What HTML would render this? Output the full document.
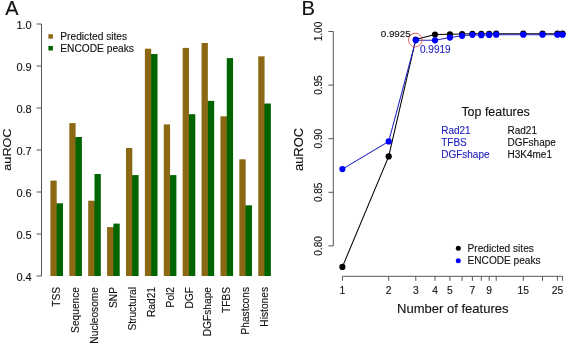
<!DOCTYPE html>
<html><head><meta charset="utf-8"><style>
html,body{margin:0;padding:0;background:#fff;}
body{width:567px;height:344px;overflow:hidden;font-family:"Liberation Sans",sans-serif;}
svg{display:block;will-change:transform;}
</style></head><body>
<svg width="567" height="344" viewBox="0 0 567 344" font-family="Liberation Sans, sans-serif" fill="#111">
<rect width="567" height="344" fill="#fff"/>
<text stroke="#111" stroke-width="0.12" x="5.3" y="14.9" font-size="19.9" font-family="Liberation Sans, sans-serif">A</text>
<line x1="41.5" y1="24.0" x2="41.5" y2="276.0" stroke="#555" stroke-width="1"/>
<line x1="36.6" y1="276.0" x2="41.5" y2="276.0" stroke="#555" stroke-width="1"/>
<text stroke="#111" stroke-width="0.12" x="31.7" y="280.8" font-size="11" text-anchor="end" font-family="Liberation Sans, sans-serif">0.4</text>
<line x1="36.6" y1="234.0" x2="41.5" y2="234.0" stroke="#555" stroke-width="1"/>
<text stroke="#111" stroke-width="0.12" x="31.7" y="238.8" font-size="11" text-anchor="end" font-family="Liberation Sans, sans-serif">0.5</text>
<line x1="36.6" y1="191.99999999999997" x2="41.5" y2="191.99999999999997" stroke="#555" stroke-width="1"/>
<text stroke="#111" stroke-width="0.12" x="31.7" y="196.79999999999998" font-size="11" text-anchor="end" font-family="Liberation Sans, sans-serif">0.6</text>
<line x1="36.6" y1="150.0" x2="41.5" y2="150.0" stroke="#555" stroke-width="1"/>
<text stroke="#111" stroke-width="0.12" x="31.7" y="154.8" font-size="11" text-anchor="end" font-family="Liberation Sans, sans-serif">0.7</text>
<line x1="36.6" y1="108.0" x2="41.5" y2="108.0" stroke="#555" stroke-width="1"/>
<text stroke="#111" stroke-width="0.12" x="31.7" y="112.8" font-size="11" text-anchor="end" font-family="Liberation Sans, sans-serif">0.8</text>
<line x1="36.6" y1="66.0" x2="41.5" y2="66.0" stroke="#555" stroke-width="1"/>
<text stroke="#111" stroke-width="0.12" x="31.7" y="70.8" font-size="11" text-anchor="end" font-family="Liberation Sans, sans-serif">0.9</text>
<line x1="36.6" y1="24.0" x2="41.5" y2="24.0" stroke="#555" stroke-width="1"/>
<text stroke="#111" stroke-width="0.12" x="31.7" y="28.8" font-size="11" text-anchor="end" font-family="Liberation Sans, sans-serif">1.0</text>
<text stroke="#111" stroke-width="0.12" transform="translate(10.9,149.6) rotate(-90)" font-size="11.2" text-anchor="middle" textLength="42.2" lengthAdjust="spacingAndGlyphs" font-family="Liberation Sans, sans-serif">auROC</text>
<rect x="56.11" y="203.80" width="1.2" height="72.20" fill="#466614"/>
<rect x="50.40" y="180.6" width="6.31" height="95.40" fill="#8B6914"/>
<rect x="56.71" y="203.3" width="6.31" height="72.70" fill="#006400"/>
<text stroke="#111" stroke-width="0.12" transform="translate(60.31,287.0) rotate(-90)" font-size="10.2" text-anchor="end" font-family="Liberation Sans, sans-serif">TSS</text>
<rect x="75.01" y="137.50" width="1.2" height="138.50" fill="#466614"/>
<rect x="69.30" y="123.1" width="6.31" height="152.90" fill="#8B6914"/>
<rect x="75.61" y="137" width="6.31" height="139.00" fill="#006400"/>
<text stroke="#111" stroke-width="0.12" transform="translate(79.20,287.0) rotate(-90)" font-size="10.2" text-anchor="end" font-family="Liberation Sans, sans-serif">Sequence</text>
<rect x="93.90" y="201.20" width="1.2" height="74.80" fill="#466614"/>
<rect x="88.19" y="200.7" width="6.31" height="75.30" fill="#8B6914"/>
<rect x="94.50" y="174" width="6.31" height="102.00" fill="#006400"/>
<text stroke="#111" stroke-width="0.12" transform="translate(98.10,287.0) rotate(-90)" font-size="10.2" text-anchor="end" font-family="Liberation Sans, sans-serif">Nucleosome</text>
<rect x="112.80" y="227.60" width="1.2" height="48.40" fill="#466614"/>
<rect x="107.09" y="227.1" width="6.31" height="48.90" fill="#8B6914"/>
<rect x="113.40" y="223.6" width="6.31" height="52.40" fill="#006400"/>
<text stroke="#111" stroke-width="0.12" transform="translate(117.00,287.0) rotate(-90)" font-size="10.2" text-anchor="end" font-family="Liberation Sans, sans-serif">SNP</text>
<rect x="131.69" y="175.60" width="1.2" height="100.40" fill="#466614"/>
<rect x="125.98" y="148" width="6.31" height="128.00" fill="#8B6914"/>
<rect x="132.29" y="175.1" width="6.31" height="100.90" fill="#006400"/>
<text stroke="#111" stroke-width="0.12" transform="translate(135.89,287.0) rotate(-90)" font-size="10.2" text-anchor="end" font-family="Liberation Sans, sans-serif">Structural</text>
<rect x="150.59" y="54.50" width="1.2" height="221.50" fill="#466614"/>
<rect x="144.88" y="48.7" width="6.31" height="227.30" fill="#8B6914"/>
<rect x="151.19" y="54" width="6.31" height="222.00" fill="#006400"/>
<text stroke="#111" stroke-width="0.12" transform="translate(154.78,287.0) rotate(-90)" font-size="10.2" text-anchor="end" font-family="Liberation Sans, sans-serif">Rad21</text>
<rect x="169.48" y="175.60" width="1.2" height="100.40" fill="#466614"/>
<rect x="163.77" y="124.4" width="6.31" height="151.60" fill="#8B6914"/>
<rect x="170.08" y="175.1" width="6.31" height="100.90" fill="#006400"/>
<text stroke="#111" stroke-width="0.12" transform="translate(173.68,287.0) rotate(-90)" font-size="10.2" text-anchor="end" font-family="Liberation Sans, sans-serif">Pol2</text>
<rect x="188.38" y="114.70" width="1.2" height="161.30" fill="#466614"/>
<rect x="182.66" y="47.9" width="6.31" height="228.10" fill="#8B6914"/>
<rect x="188.97" y="114.2" width="6.31" height="161.80" fill="#006400"/>
<text stroke="#111" stroke-width="0.12" transform="translate(192.57,287.0) rotate(-90)" font-size="10.2" text-anchor="end" font-family="Liberation Sans, sans-serif">DGF</text>
<rect x="207.27" y="101.40" width="1.2" height="174.60" fill="#466614"/>
<rect x="201.56" y="43" width="6.31" height="233.00" fill="#8B6914"/>
<rect x="207.87" y="100.9" width="6.31" height="175.10" fill="#006400"/>
<text stroke="#111" stroke-width="0.12" transform="translate(211.47,287.0) rotate(-90)" font-size="10.2" text-anchor="end" font-family="Liberation Sans, sans-serif">DGFshape</text>
<rect x="226.17" y="116.80" width="1.2" height="159.20" fill="#466614"/>
<rect x="220.46" y="116.3" width="6.31" height="159.70" fill="#8B6914"/>
<rect x="226.77" y="58.1" width="6.31" height="217.90" fill="#006400"/>
<text stroke="#111" stroke-width="0.12" transform="translate(230.37,287.0) rotate(-90)" font-size="10.2" text-anchor="end" font-family="Liberation Sans, sans-serif">TFBS</text>
<rect x="245.06" y="205.80" width="1.2" height="70.20" fill="#466614"/>
<rect x="239.35" y="159.3" width="6.31" height="116.70" fill="#8B6914"/>
<rect x="245.66" y="205.3" width="6.31" height="70.70" fill="#006400"/>
<text stroke="#111" stroke-width="0.12" transform="translate(249.26,287.0) rotate(-90)" font-size="10.2" text-anchor="end" font-family="Liberation Sans, sans-serif">Phastcons</text>
<rect x="263.95" y="104.00" width="1.2" height="172.00" fill="#466614"/>
<rect x="258.25" y="56.3" width="6.31" height="219.70" fill="#8B6914"/>
<rect x="264.56" y="103.5" width="6.31" height="172.50" fill="#006400"/>
<text stroke="#111" stroke-width="0.12" transform="translate(268.16,287.0) rotate(-90)" font-size="10.2" text-anchor="end" font-family="Liberation Sans, sans-serif">Histones</text>
<rect x="48.4" y="34.2" width="4.5" height="4.5" fill="#8B6914"/>
<rect x="48.4" y="46.0" width="4.5" height="4.5" fill="#006400"/>
<text stroke="#111" stroke-width="0.12" x="60.3" y="40.2" font-size="10.2" font-family="Liberation Sans, sans-serif">Predicted sites</text>
<text stroke="#111" stroke-width="0.12" x="60.3" y="51.7" font-size="10.2" font-family="Liberation Sans, sans-serif">ENCODE peaks</text>
<text stroke="#111" stroke-width="0.12" x="301.4" y="14.9" font-size="20.2" font-family="Liberation Sans, sans-serif">B</text>
<line x1="333.3" y1="31.5" x2="333.3" y2="245.89999999999995" stroke="#555" stroke-width="1"/>
<line x1="328.4" y1="31.5" x2="333.3" y2="31.5" stroke="#555" stroke-width="1"/>
<text stroke="#111" stroke-width="0.12" transform="translate(321.8,31.5) rotate(-90)" font-size="10" text-anchor="middle" font-family="Liberation Sans, sans-serif">1.00</text>
<line x1="328.4" y1="85.10000000000005" x2="333.3" y2="85.10000000000005" stroke="#555" stroke-width="1"/>
<text stroke="#111" stroke-width="0.12" transform="translate(321.8,85.10000000000005) rotate(-90)" font-size="10" text-anchor="middle" font-family="Liberation Sans, sans-serif">0.95</text>
<line x1="328.4" y1="138.7" x2="333.3" y2="138.7" stroke="#555" stroke-width="1"/>
<text stroke="#111" stroke-width="0.12" transform="translate(321.8,138.7) rotate(-90)" font-size="10" text-anchor="middle" font-family="Liberation Sans, sans-serif">0.90</text>
<line x1="328.4" y1="192.3" x2="333.3" y2="192.3" stroke="#555" stroke-width="1"/>
<text stroke="#111" stroke-width="0.12" transform="translate(321.8,192.3) rotate(-90)" font-size="10" text-anchor="middle" font-family="Liberation Sans, sans-serif">0.85</text>
<line x1="328.4" y1="245.89999999999995" x2="333.3" y2="245.89999999999995" stroke="#555" stroke-width="1"/>
<text stroke="#111" stroke-width="0.12" transform="translate(321.8,245.89999999999995) rotate(-90)" font-size="10" text-anchor="middle" font-family="Liberation Sans, sans-serif">0.80</text>
<text stroke="#111" stroke-width="0.12" transform="translate(303.2,149.5) rotate(-90)" font-size="12" text-anchor="middle" textLength="43.1" lengthAdjust="spacingAndGlyphs" font-family="Liberation Sans, sans-serif">auROC</text>
<line x1="342.4" y1="276.3" x2="562.5619026490891" y2="276.3" stroke="#555" stroke-width="1"/>
<line x1="342.40" y1="276.3" x2="342.40" y2="280.8" stroke="#555" stroke-width="1"/>
<line x1="388.70" y1="276.3" x2="388.70" y2="280.8" stroke="#555" stroke-width="1"/>
<line x1="415.79" y1="276.3" x2="415.79" y2="280.8" stroke="#555" stroke-width="1"/>
<line x1="435.00" y1="276.3" x2="435.00" y2="280.8" stroke="#555" stroke-width="1"/>
<line x1="449.91" y1="276.3" x2="449.91" y2="280.8" stroke="#555" stroke-width="1"/>
<line x1="462.09" y1="276.3" x2="462.09" y2="280.8" stroke="#555" stroke-width="1"/>
<line x1="472.39" y1="276.3" x2="472.39" y2="280.8" stroke="#555" stroke-width="1"/>
<line x1="481.31" y1="276.3" x2="481.31" y2="280.8" stroke="#555" stroke-width="1"/>
<line x1="489.17" y1="276.3" x2="489.17" y2="280.8" stroke="#555" stroke-width="1"/>
<line x1="496.21" y1="276.3" x2="496.21" y2="280.8" stroke="#555" stroke-width="1"/>
<line x1="523.30" y1="276.3" x2="523.30" y2="280.8" stroke="#555" stroke-width="1"/>
<line x1="542.51" y1="276.3" x2="542.51" y2="280.8" stroke="#555" stroke-width="1"/>
<line x1="557.42" y1="276.3" x2="557.42" y2="280.8" stroke="#555" stroke-width="1"/>
<line x1="562.56" y1="276.3" x2="562.56" y2="280.8" stroke="#555" stroke-width="1"/>
<text stroke="#111" stroke-width="0.12" x="342.40" y="293.9" font-size="10.3" text-anchor="middle" font-family="Liberation Sans, sans-serif">1</text>
<text stroke="#111" stroke-width="0.12" x="388.70" y="293.9" font-size="10.3" text-anchor="middle" font-family="Liberation Sans, sans-serif">2</text>
<text stroke="#111" stroke-width="0.12" x="415.79" y="293.9" font-size="10.3" text-anchor="middle" font-family="Liberation Sans, sans-serif">3</text>
<text stroke="#111" stroke-width="0.12" x="435.00" y="293.9" font-size="10.3" text-anchor="middle" font-family="Liberation Sans, sans-serif">4</text>
<text stroke="#111" stroke-width="0.12" x="449.91" y="293.9" font-size="10.3" text-anchor="middle" font-family="Liberation Sans, sans-serif">5</text>
<text stroke="#111" stroke-width="0.12" x="472.39" y="293.9" font-size="10.3" text-anchor="middle" font-family="Liberation Sans, sans-serif">7</text>
<text stroke="#111" stroke-width="0.12" x="489.17" y="293.9" font-size="10.3" text-anchor="middle" font-family="Liberation Sans, sans-serif">9</text>
<text stroke="#111" stroke-width="0.12" x="523.30" y="293.9" font-size="10.3" text-anchor="middle" font-family="Liberation Sans, sans-serif">15</text>
<text stroke="#111" stroke-width="0.12" x="557.42" y="293.9" font-size="10.3" text-anchor="middle" font-family="Liberation Sans, sans-serif">25</text>
<text stroke="#111" stroke-width="0.12" x="452.8" y="313.4" font-size="12.4" text-anchor="middle" textLength="111.4" lengthAdjust="spacingAndGlyphs" font-family="Liberation Sans, sans-serif">Number of features</text>
<polyline points="342.40,266.9 388.70,156.4 415.79,39.5 435.00,34.5 449.91,34.3 462.09,34.0 472.39,33.8 481.31,33.8 489.17,33.8 496.21,33.7 523.30,33.7 542.51,33.7 557.42,33.7 562.56,33.7" fill="none" stroke="#000" stroke-width="1.05"/>
<circle cx="342.40" cy="266.9" r="3.1" fill="#000"/>
<circle cx="388.70" cy="156.4" r="3.1" fill="#000"/>
<circle cx="415.79" cy="39.5" r="3.1" fill="#000"/>
<circle cx="435.00" cy="34.5" r="3.1" fill="#000"/>
<circle cx="449.91" cy="34.3" r="3.1" fill="#000"/>
<circle cx="462.09" cy="34.0" r="3.1" fill="#000"/>
<circle cx="472.39" cy="33.8" r="3.1" fill="#000"/>
<circle cx="481.31" cy="33.8" r="3.1" fill="#000"/>
<circle cx="489.17" cy="33.8" r="3.1" fill="#000"/>
<circle cx="496.21" cy="33.7" r="3.1" fill="#000"/>
<circle cx="523.30" cy="33.7" r="3.1" fill="#000"/>
<circle cx="542.51" cy="33.7" r="3.1" fill="#000"/>
<circle cx="557.42" cy="33.7" r="3.1" fill="#000"/>
<circle cx="562.56" cy="33.7" r="3.1" fill="#000"/>
<polyline points="342.40,169.1 388.70,141.4 415.79,40.2 435.00,40.3 449.91,37.6 462.09,35.8 472.39,34.8 481.31,35.2 489.17,34.9 496.21,34.7 523.30,34.7 542.51,34.7 557.42,34.7 562.56,34.7" fill="none" stroke="#2424c0" stroke-width="1.05"/>
<circle cx="342.40" cy="169.1" r="3.1" fill="#0000ff"/>
<circle cx="388.70" cy="141.4" r="3.1" fill="#0000ff"/>
<circle cx="415.79" cy="40.2" r="3.1" fill="#0000ff"/>
<circle cx="435.00" cy="40.3" r="3.1" fill="#0000ff"/>
<circle cx="449.91" cy="37.6" r="3.1" fill="#0000ff"/>
<circle cx="462.09" cy="35.8" r="3.1" fill="#0000ff"/>
<circle cx="472.39" cy="34.8" r="3.1" fill="#0000ff"/>
<circle cx="481.31" cy="35.2" r="3.1" fill="#0000ff"/>
<circle cx="489.17" cy="34.9" r="3.1" fill="#0000ff"/>
<circle cx="496.21" cy="34.7" r="3.1" fill="#0000ff"/>
<circle cx="523.30" cy="34.7" r="3.1" fill="#0000ff"/>
<circle cx="542.51" cy="34.7" r="3.1" fill="#0000ff"/>
<circle cx="557.42" cy="34.7" r="3.1" fill="#0000ff"/>
<circle cx="562.56" cy="34.7" r="3.1" fill="#0000ff"/>
<circle cx="415.3" cy="40.0" r="6.8" fill="none" stroke="#e05555" stroke-width="0.9"/>
<text stroke="#111" stroke-width="0.12" x="380.7" y="37.1" font-size="9.85" font-family="Liberation Sans, sans-serif">0.9925</text>
<text stroke="#2424bc" stroke-width="0.12" x="420" y="52.7" font-size="10" fill="#2424bc" font-family="Liberation Sans, sans-serif">0.9919</text>
<text stroke="#111" stroke-width="0.12" x="461.4" y="115.7" font-size="12.45" font-family="Liberation Sans, sans-serif">Top features</text>
<text stroke="#2424bc" stroke-width="0.12" x="441.2" y="134.2" font-size="10" fill="#2424bc" font-family="Liberation Sans, sans-serif">Rad21</text>
<text stroke="#111" stroke-width="0.12" x="507.5" y="134.2" font-size="10" font-family="Liberation Sans, sans-serif">Rad21</text>
<text stroke="#2424bc" stroke-width="0.12" x="441.2" y="145.9" font-size="10" fill="#2424bc" font-family="Liberation Sans, sans-serif">TFBS</text>
<text stroke="#111" stroke-width="0.12" x="507.5" y="145.9" font-size="10" font-family="Liberation Sans, sans-serif">DGFshape</text>
<text stroke="#2424bc" stroke-width="0.12" x="441.2" y="157.6" font-size="10" fill="#2424bc" font-family="Liberation Sans, sans-serif">DGFshape</text>
<text stroke="#111" stroke-width="0.12" x="507.5" y="157.6" font-size="10" font-family="Liberation Sans, sans-serif">H3K4me1</text>
<circle cx="458.3" cy="248.3" r="2.5" fill="#000"/>
<circle cx="458.3" cy="260.7" r="2.5" fill="#0000FF"/>
<text stroke="#111" stroke-width="0.12" x="467.6" y="251.7" font-size="10.1" font-family="Liberation Sans, sans-serif">Predicted sites</text>
<text stroke="#111" stroke-width="0.12" x="467.6" y="264.1" font-size="10.1" font-family="Liberation Sans, sans-serif">ENCODE peaks</text>
</svg>
</body></html>
